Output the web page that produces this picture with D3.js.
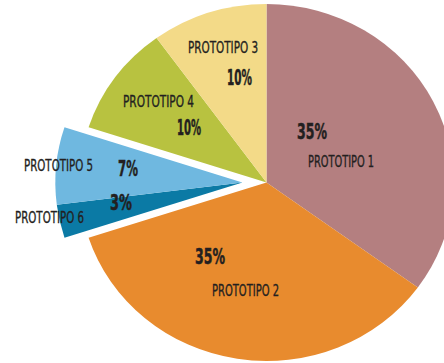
<!DOCTYPE html>
<html>
<head>
<meta charset="utf-8">
<script src="https://cdn.jsdelivr.net/npm/d3@7"></script>
<style>
  html, body { margin: 0; padding: 0; background: #ffffff; }
  svg { display: block; }
</style>
</head>
<body>
<svg id="chart" width="444" height="363"></svg>
<script>
// ---- data (clockwise order from 12 o'clock) ----
const categories = ["PROTOTIPO 1", "PROTOTIPO 2", "PROTOTIPO 6", "PROTOTIPO 5", "PROTOTIPO 4", "PROTOTIPO 3"];
const values = [35, 35, 3, 7, 10, 10];
const percentLabels = ["35%", "35%", "3%", "7%", "10%", "10%"];
const exploded = ["PROTOTIPO 5", "PROTOTIPO 6"];

// ---- styles / layout ----
const colors = {
  "PROTOTIPO 1": "#b47f80",
  "PROTOTIPO 2": "#e88b2e",
  "PROTOTIPO 3": "#f3da88",
  "PROTOTIPO 4": "#b8c240",
  "PROTOTIPO 5": "#6fb8e0",
  "PROTOTIPO 6": "#0b7aa5"
};
const W = 444, H = 363;
const cx = 266.5, cy = 182.5, R = 178.5, sx = 1.048;
const explodeOffset = 23;

// label layout: [name x, name baseline, name width, pct x, pct baseline, pct width]
const labelLayout = {
  "PROTOTIPO 1": [341, 167, 66, 312, 139, 30],
  "PROTOTIPO 2": [245.5, 296, 67, 210, 264, 30],
  "PROTOTIPO 3": [223, 53, 70, 239.5, 85, 25],
  "PROTOTIPO 4": [158.5, 107, 71, 189, 135, 24],
  "PROTOTIPO 5": [58.5, 171, 69, 128, 176, 20],
  "PROTOTIPO 6": [49.5, 223, 69, 121, 210, 22]
};

const svg = d3.select("#chart");
svg.append("rect").attr("width", W).attr("height", H).attr("fill", "#ffffff");

const pie = d3.pie().sort(null).value(d => d.v).startAngle(0).endAngle(2 * Math.PI);
const arc = d3.arc().innerRadius(0).outerRadius(R);
const rows = categories.map((c, i) => ({ c, v: values[i], p: percentLabels[i] }));
const arcs = pie(rows);

const g = svg.append("g").attr("transform", `translate(${cx},${cy}) scale(${sx},1)`);

g.selectAll("path.slice")
  .data(arcs)
  .join("path")
  .attr("class", "slice")
  .attr("d", arc)
  .attr("fill", d => colors[d.data.c])
  .attr("transform", d => {
    if (!exploded.includes(d.data.c)) return null;
    const grp = arcs.filter(a => exploded.includes(a.data.c));
    const a0 = d3.min(grp, a => a.startAngle), a1 = d3.max(grp, a => a.endAngle);
    const mid = (a0 + a1) / 2;
    return `translate(${Math.sin(mid) * explodeOffset},${-Math.cos(mid) * explodeOffset})`;
  });

const labels = svg.append("g").attr("fill", "#231f20");

arcs.forEach(d => {
  const L = labelLayout[d.data.c];
  labels.append("text")
    .attr("x", L[0]).attr("y", L[1])
    .attr("text-anchor", "middle")
    .attr("font-family", "'Liberation Sans Narrow', 'DejaVu Sans Condensed', sans-serif")
    .attr("font-size", 16)
    .attr("stroke", "#231f20")
    .attr("stroke-width", 0.35)
    .attr("textLength", L[2])
    .attr("lengthAdjust", "spacingAndGlyphs")
    .text(d.data.c);
  labels.append("text")
    .attr("x", L[3]).attr("y", L[4])
    .attr("text-anchor", "middle")
    .attr("font-family", "'Liberation Sans Narrow', 'DejaVu Sans Condensed', sans-serif")
    .attr("font-weight", "bold")
    .attr("font-size", 22)
    .attr("stroke", "#231f20")
    .attr("stroke-width", 0.5)
    .attr("textLength", L[5])
    .attr("lengthAdjust", "spacingAndGlyphs")
    .text(d.data.p);
});
</script>
</body>
</html>
